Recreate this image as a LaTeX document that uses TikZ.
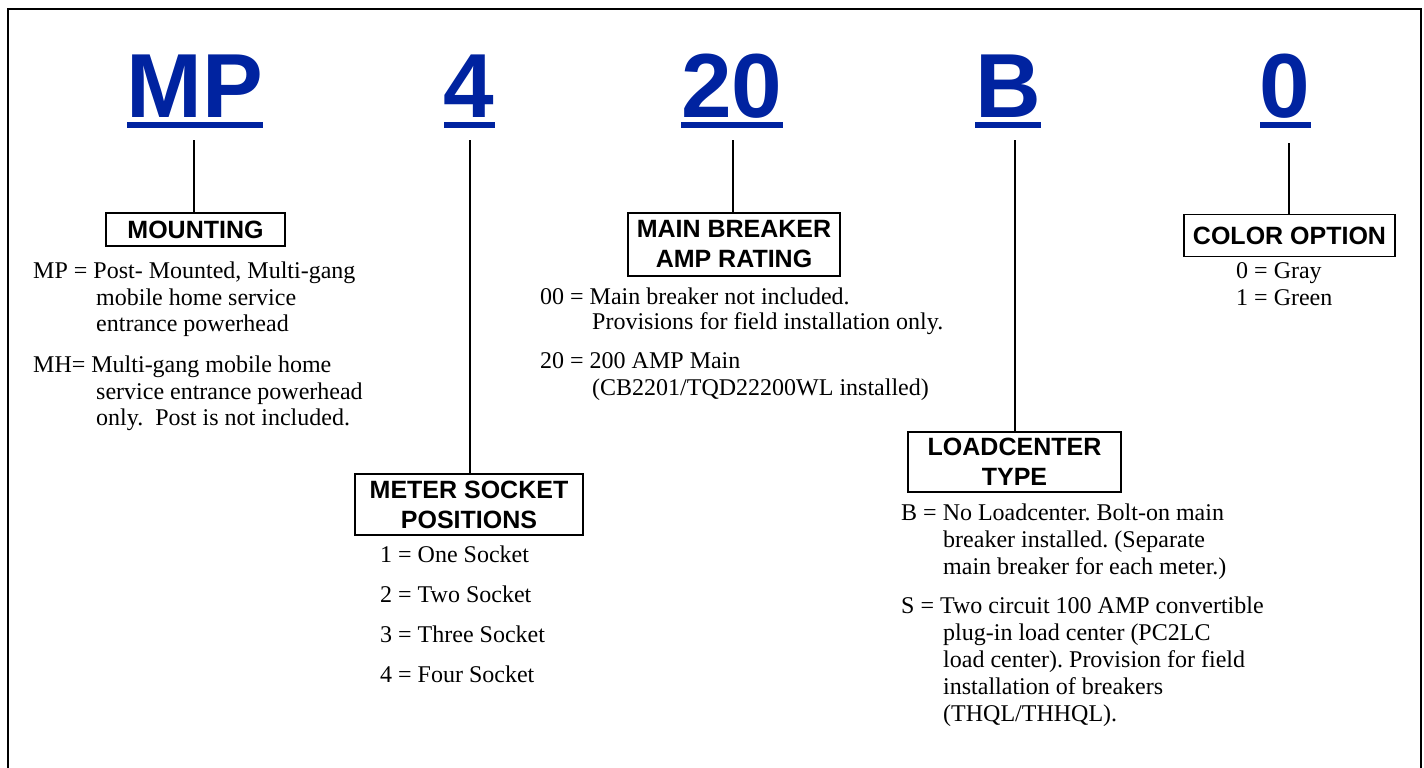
\documentclass[tikz,border=0pt]{standalone}
\usepackage{fontspec}
\setmainfont{Liberation Serif}
\setsansfont{Liberation Sans}
\frenchspacing
\definecolor{codeblue}{RGB}{0,35,160}
\tikzset{
  big/.style={font=\fontsize{91}{91}\selectfont\sffamily\bfseries, text=codeblue, inner sep=0pt, anchor=base},
  head/.style={draw, line width=1.6pt, font=\fontsize{25}{30}\selectfont\sffamily\bfseries, align=center, inner sep=0pt},
  body/.style={font=\fontsize{24}{26.5}\selectfont, inner sep=0pt, anchor=base west},
  conn/.style={line width=1.6pt},
  uline/.style={fill=codeblue, draw=none}
}
\begin{document}
\begin{tikzpicture}[x=1pt,y=1pt]
\useasboundingbox (0,0) rectangle (1424,-768);
\draw[line width=2.6pt] (8,-9) rectangle (1421,-800);

% big code letters
\node[big] (mp) at (195,-117) {MP};
\node[big] (n4) at (469,-117) {4};
\node[big] (n20) at (732,-117) {20};
\node[big] (nb) at (1008,-117) {B};
\node[big] (n0) at (1285,-117) {0};
\foreach \n in {mp,n4,n20,nb,n0}{
  \fill[uline] ([yshift=-5pt]\n.base west) rectangle ([yshift=-11pt]\n.base east);
}

% connector tops
\coordinate (mpt) at (194,-140);
\coordinate (n4t) at (470,-140);
\coordinate (n20t) at (733,-140);
\coordinate (nbt) at (1015,-140);
\coordinate (n0t) at (1289,-143);

% heading boxes
\node[head, minimum width=179pt, minimum height=33pt] (mount) at (195.5,-229.5) {MOUNTING};
\node[head, minimum width=228pt, minimum height=61pt] (meter) at (469,-504.5) {METER SOCKET\\POSITIONS};
\node[head, minimum width=212pt, minimum height=63pt] (mainb) at (734,-244.5) {MAIN BREAKER\\AMP RATING};
\node[head, minimum width=213pt, minimum height=60pt] (load) at (1014.5,-462) {LOADCENTER\\TYPE};
\node[head, minimum width=211pt, minimum height=42pt] (color) at (1289.5,-235.5) {COLOR OPTION};

% connectors
\draw[conn] (mpt) -- (mpt |- mount.north);
\draw[conn] (n4t) -- (n4t |- meter.north);
\draw[conn] (n20t) -- (n20t |- mainb.north);
\draw[conn] (nbt) -- (nbt |- load.north);
\draw[conn] (n0t) -- (n0t |- color.north);

% mounting text
\node[body] (m1) at (33,-278) {MP = Post- Mounted, Multi-gang};
\node[body] (m2) at (96,-305) {mobile home service};
\node[body] (m3) at (96,-331) {entrance powerhead};
\node[body] (m4) at (33,-372) {MH= Multi-gang mobile home};
\node[body] (m5) at (96,-399) {service entrance powerhead};
\node[body] (m6) at (96,-425) {only.\ \ Post is not included.};

% meter socket text
\node[body] (s1) at (380,-562) {1 = One Socket};
\node[body] (s2) at (380,-602) {2 = Two Socket};
\node[body] (s3) at (380,-642) {3 = Three Socket};
\node[body] (s4) at (380,-682) {4 = Four Socket};

% main breaker text
\node[body] (b1) at (540,-304) {00 = Main breaker not included.};
\node[body] (b2) at (592,-329) {Provisions for field installation only.};
\node[body] (b3) at (540,-368) {20 = 200 AMP Main};
\node[body] (b4) at (592,-395) {(CB2201/TQD22200WL installed)};

% loadcenter text
\node[body] (l1) at (901,-520) {B = No Loadcenter. Bolt-on main};
\node[body] (l2) at (943,-547) {breaker installed. (Separate};
\node[body] (l3) at (943,-574) {main breaker for each meter.)};
\node[body] (l4) at (901,-613) {S = Two circuit 100 AMP convertible};
\node[body] (l5) at (943,-640) {plug-in load center (PC2LC};
\node[body] (l6) at (943,-667) {load center). Provision for field};
\node[body] (l7) at (943,-694) {installation of breakers};
\node[body] (l8) at (943,-721) {(THQL/THHQL).};

% color text
\node[body] (c1) at (1236,-278) {0 = Gray};
\node[body] (c2) at (1236,-305) {1 = Green};
\end{tikzpicture}
\end{document}
